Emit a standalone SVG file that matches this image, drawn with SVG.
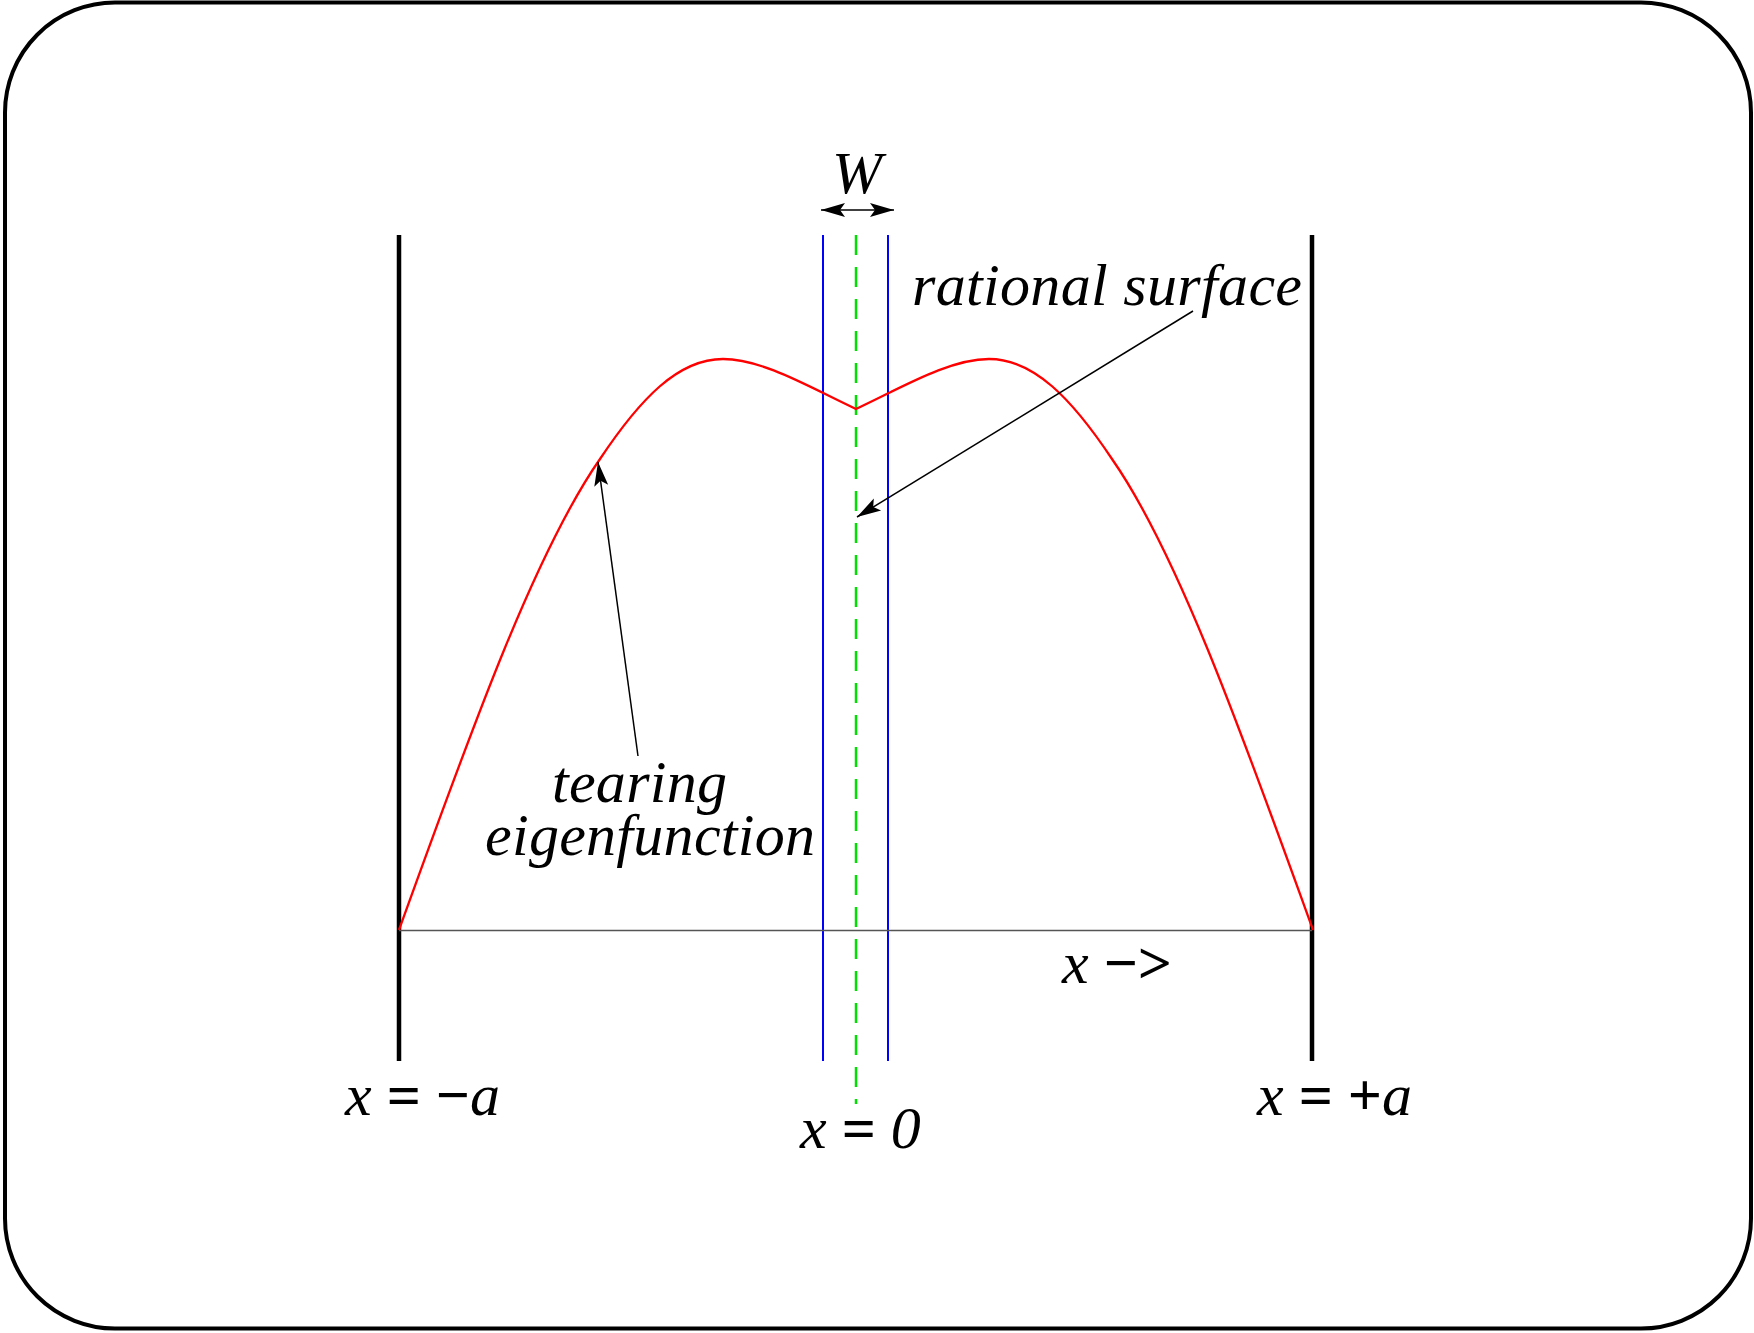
<svg xmlns="http://www.w3.org/2000/svg" width="1754" height="1333" viewBox="0 0 1754 1333">
<style>
.lbl{font-family:"Liberation Serif","Times New Roman",serif;font-size:60px;fill:#000}
.it{font-style:italic}
.op{font-style:normal;font-weight:bold}
.wall{stroke:#000;stroke-width:4.5;fill:none}
.blue{stroke:#0000ff;stroke-width:2;fill:none}
.ptr{stroke:#000;stroke-width:1.5;fill:none}
</style>
<defs>
<marker id="ah" viewBox="-26 -9 28 18" refX="0" refY="0" markerWidth="28" markerHeight="18" markerUnits="userSpaceOnUse" orient="auto-start-reverse">
<path d="M0,0 L-24,-7 L-19,0 L-24,7 Z" fill="#000"/>
</marker>
</defs>
<rect id="frame" x="5" y="2.5" width="1746" height="1326" rx="110" ry="110" fill="#fff" stroke="#000" stroke-width="4"/>
<g id="walls">
<line id="wall-left" class="wall" x1="399" y1="235" x2="399" y2="1061"/>
<line id="wall-right" class="wall" x1="1312" y1="235" x2="1312" y2="1061"/>
</g>
<g id="layer">
<line id="layer-left" class="blue" x1="823" y1="235" x2="823" y2="1061"/>
<line id="layer-right" class="blue" x1="888" y1="235" x2="888" y2="1061"/>
</g>
<line id="axis" x1="399" y1="930.5" x2="1312" y2="930.5" stroke="#555" stroke-width="1.6"/>
<line id="rational-surface" x1="856" y1="235" x2="856" y2="1104" stroke="#00e000" stroke-width="2.5" stroke-dasharray="20 12"/>
<path id="eigenfunction" d="M399,930 C466,745 533,555 600,459 C640,399 678,359 723,359 C763,359 811,388 856,409 C901,388 949,359 989,359 C1034,359 1072,399 1112,459 C1179,555 1246,745 1313,930" fill="none" stroke="#ff0000" stroke-width="2.3"/>
<g id="connectors">
<line id="w-arrow" class="ptr" x1="821" y1="210" x2="894" y2="210" marker-start="url(#ah)" marker-end="url(#ah)"/>
<line id="rs-arrow" class="ptr" x1="1193" y1="311" x2="857" y2="517" marker-end="url(#ah)"/>
<line id="te-arrow" class="ptr" x1="638" y1="756" x2="598" y2="462" marker-end="url(#ah)"/>
</g>
<g id="labels">
<text id="t-w" class="lbl it" x="857" y="193" text-anchor="middle">W</text>
<text id="t-rs" class="lbl it" x="912" y="305" textLength="390" lengthAdjust="spacing">rational surface</text>
<text id="t-te1" class="lbl it" x="552" y="802" textLength="175" lengthAdjust="spacing">tearing</text>
<text id="t-te2" class="lbl it" x="485" y="855" textLength="330" lengthAdjust="spacing">eigenfunction</text>
<text id="t-xma" class="lbl" x="345" y="1115"><tspan class="it">x</tspan> <tspan class="op">=</tspan> <tspan class="op">−</tspan><tspan class="it">a</tspan></text>
<text id="t-xpa" class="lbl" x="1257" y="1115"><tspan class="it">x</tspan> <tspan class="op">=</tspan> <tspan class="op">+</tspan><tspan class="it">a</tspan></text>
<text id="t-x0" class="lbl" x="800" y="1148"><tspan class="it">x</tspan> <tspan class="op">=</tspan> <tspan class="it">0</tspan></text>
<text id="t-xarrow" class="lbl" x="1062" y="983"><tspan class="it">x</tspan> <tspan class="op">−&gt;</tspan></text>
</g>
</svg>
